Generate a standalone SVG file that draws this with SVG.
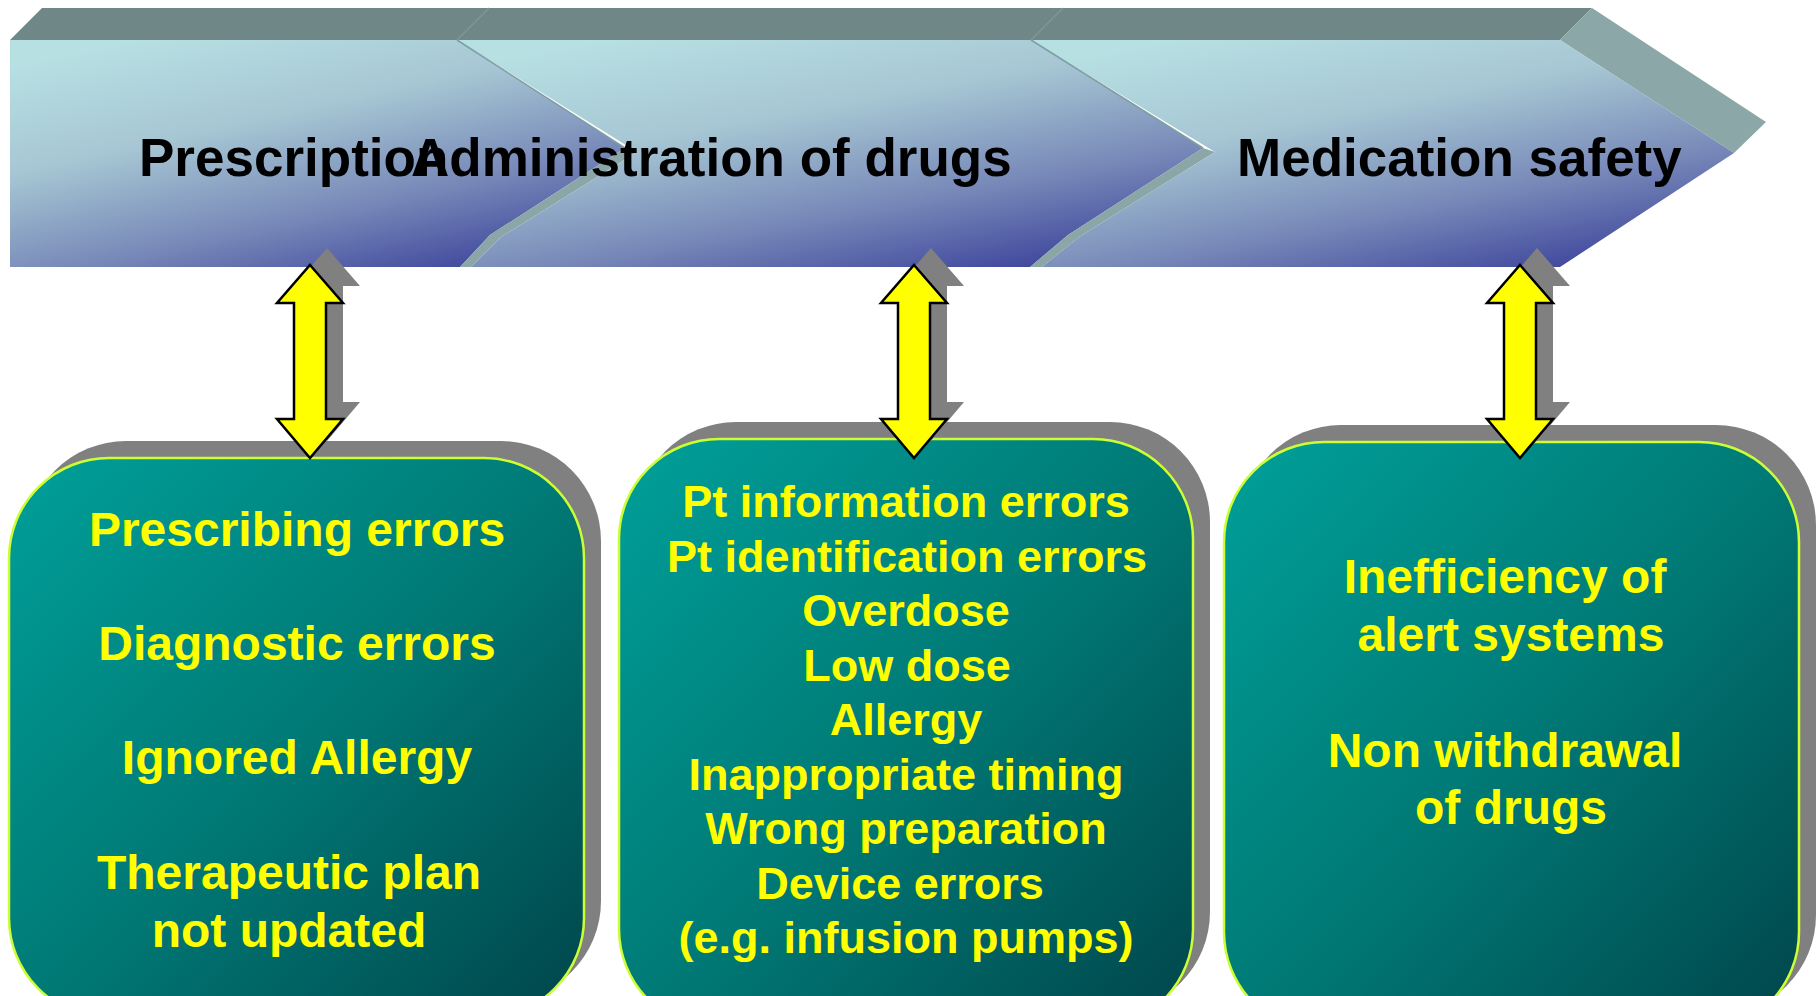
<svg xmlns="http://www.w3.org/2000/svg" width="1816" height="996" viewBox="0 0 1816 996">
<defs>
<linearGradient id="chev" x1="0.2" y1="0" x2="0.8" y2="1">
<stop offset="0" stop-color="#b7e0e3"/>
<stop offset="0.35" stop-color="#a6c6d3"/>
<stop offset="0.7" stop-color="#7788b8"/>
<stop offset="1" stop-color="#3e469c"/>
</linearGradient>
<linearGradient id="box" x1="0" y1="0" x2="1" y2="1">
<stop offset="0" stop-color="#00a09a"/>
<stop offset="0.5" stop-color="#007a76"/>
<stop offset="1" stop-color="#00454a"/>
</linearGradient>
<polygon id="dbl" points="0,265 33,303 16,303 16,419 33,419 0,458 -33,419 -16,419 -16,303 -33,303"/>
</defs>
<style>
.top{fill:#6f8787}
.side{fill:#8ca7a7}
.strip{fill:#8aa6a6}
.face{fill:url(#chev)}
.edge{fill:none;stroke:#7f9ea4;stroke-width:1.5}
.topline{stroke:#7e9696;stroke-width:1.5}
.hdr{font-family:"Liberation Sans",Arial,sans-serif;font-weight:bold;font-size:53px;fill:#000}
.shadow{fill:#808080}
.card{fill:url(#box);stroke:#ccff33;stroke-width:2.5}
.txt{font-family:"Liberation Sans",Arial,sans-serif;font-weight:bold;font-size:48px;fill:#ffff00;text-anchor:middle}
.txt2{font-family:"Liberation Sans",Arial,sans-serif;font-weight:bold;font-size:45px;fill:#ffff00;text-anchor:middle}
.arrow{fill:#ffff00;stroke:#000;stroke-width:2.5;stroke-linejoin:miter}
</style>

<g id="header">
<polygon class="top" points="10,40 42,8 1592,8 1560,40"/>
<line class="topline" x1="457" y1="40" x2="489" y2="8"/>
<line class="topline" x1="1031" y1="40" x2="1063" y2="8"/>
<polygon class="side" points="1560,40 1592,8 1766,122 1734,153"/>
<g id="stage-prescription">
<polygon class="face" points="10,40 457,40 625,148 490,235 460,267 10,267"/>
</g>
<polygon class="strip" points="625,148 637,152 501,237 471,267 460,267 490,235"/>
<g id="stage-administration">
<polygon class="face" points="457,40 1031,40 1203,148 1068,235 1030,267 471,267 501,237 637,152"/>
</g>
<polygon class="strip" points="1203,148 1215,152 1079,237 1042,267 1030,267 1068,235"/>
<g id="stage-safety">
<polygon class="face" points="1031,40 1560,40 1734,153 1560,267 1042,267 1079,237 1215,152"/>
</g>
<polyline class="edge" points="457,40 625,148"/>
<polyline class="edge" points="1031,40 1203,148"/>
<text class="hdr" x="139" y="176">Prescription</text>
<text class="hdr" x="411" y="176">Administration of drugs</text>
<text class="hdr" x="1237" y="176">Medication safety</text>
</g>

<g id="box-prescription">
<rect class="shadow" x="26" y="441" width="575" height="560" rx="100" ry="100"/>
<rect class="card" x="9" y="458" width="575" height="560" rx="100" ry="100"/>
<text class="txt" x="297" y="546">Prescribing errors</text>
<text class="txt" x="297" y="660">Diagnostic errors</text>
<text class="txt" x="297" y="774">Ignored Allergy</text>
<text class="txt" x="289" y="889">Therapeutic plan</text>
<text class="txt" x="289" y="947">not updated</text>
</g>

<g id="box-administration">
<rect class="shadow" x="636" y="422" width="574" height="590" rx="100" ry="100"/>
<rect class="card" x="619" y="439" width="574" height="590" rx="100" ry="100"/>
<text class="txt2" x="906" y="517">Pt information errors</text>
<text class="txt2" x="907" y="572">Pt identification errors</text>
<text class="txt2" x="906" y="626">Overdose</text>
<text class="txt2" x="907" y="681">Low dose</text>
<text class="txt2" x="906" y="735">Allergy</text>
<text class="txt2" x="906" y="790">Inappropriate timing</text>
<text class="txt2" x="906" y="844">Wrong preparation</text>
<text class="txt2" x="900" y="899">Device errors</text>
<text class="txt2" x="906" y="953">(e.g. infusion pumps)</text>
</g>

<g id="box-safety">
<rect class="shadow" x="1241" y="425" width="575" height="590" rx="100" ry="100"/>
<rect class="card" x="1224" y="442" width="575" height="590" rx="100" ry="100"/>
<text class="txt" x="1505" y="593">Inefficiency of</text>
<text class="txt" x="1511" y="651">alert systems</text>
<text class="txt" x="1505" y="767">Non withdrawal</text>
<text class="txt" x="1511" y="824">of drugs</text>
</g>

<g id="connectors">
<use href="#dbl" class="shadow" transform="translate(327,-17)"/>
<use href="#dbl" class="shadow" transform="translate(931,-17)"/>
<use href="#dbl" class="shadow" transform="translate(1537,-17)"/>
<use href="#dbl" class="arrow" transform="translate(310,0)"/>
<use href="#dbl" class="arrow" transform="translate(914,0)"/>
<use href="#dbl" class="arrow" transform="translate(1520,0)"/>
</g>
</svg>
